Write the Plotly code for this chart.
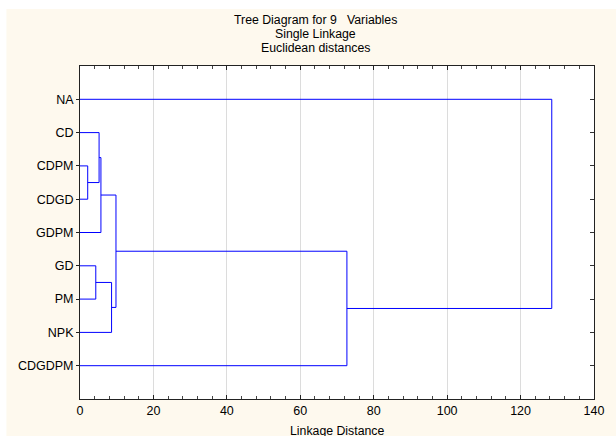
import plotly.graph_objects as go

# Leaves in display order (top to bottom)
labels = ["NA", "CD", "CDPM", "CDGD", "GDPM", "GD", "PM", "NPK", "CDGDPM"]
# Merges: (child_a, child_b) indices; leaves 0-8, new nodes numbered from 9
merge_a = [2, 5, 1, 11, 10, 12, 14, 0]
merge_b = [3, 6, 9, 4, 7, 13, 8, 15]
merge_height = [2.1, 4.3, 5.2, 5.7, 8.6, 9.8, 72.7, 128.5]

x_ticks = [0, 20, 40, 60, 80, 100, 120, 140]

# node positions (y = leaf position, x = linkage height)
node_y = {i: i + 1 for i in range(len(labels))}
node_x = {i: 0.0 for i in range(len(labels))}
xs, ys = [], []
for k, (a, b, h) in enumerate(zip(merge_a, merge_b, merge_height)):
    nid = len(labels) + k
    ya, yb = node_y[a], node_y[b]
    xs += [node_x[a], h, h, node_x[b], None]
    ys += [ya, ya, yb, yb, None]
    node_y[nid] = (ya + yb) / 2
    node_x[nid] = h

fig = go.Figure()
fig.add_trace(go.Scatter(x=xs, y=ys, mode="lines",
                         line=dict(color="#0000FF", width=1),
                         hoverinfo="skip", showlegend=False))
fig.add_trace(go.Scatter(x=[None], y=[None], yaxis="y2", mode="lines",
                         showlegend=False, hoverinfo="skip"))

font = dict(family="Liberation Sans, Arial, sans-serif", size=12.5, color="black")
tfont = dict(family="Liberation Sans, Arial, sans-serif", size=12.3, color="black")

fig.update_layout(
    width=616, height=436,
    margin=dict(l=80, r=12, t=66, b=37),
    paper_bgcolor="#FEF9EE",
    plot_bgcolor="white",
    font=font,
    xaxis=dict(range=[0, 140], tickvals=x_ticks, showgrid=True,
               gridcolor="#DCDCDC", gridwidth=1, zeroline=False,
               showline=True, linecolor="#222", linewidth=1, mirror="ticks",
               ticks="inside", ticklen=4, tickcolor="#222",
               minor=dict(dtick=4, tick0=0, ticks="inside", ticklen=3,
                          tickcolor="#444", showgrid=False),
               tickfont=font, fixedrange=True),
    yaxis=dict(range=[10, 0], tickvals=list(range(1, len(labels) + 1)),
               ticktext=labels, showgrid=False, zeroline=False,
               showline=True, linecolor="#222", linewidth=1, mirror=True,
               ticks="outside", ticklen=3, tickcolor="#222", tickfont=font),
    yaxis2=dict(range=[10, 0], overlaying="y", side="right",
                tickvals=list(range(1, len(labels) + 1)),
                showticklabels=False, showgrid=False, zeroline=False,
                showline=False, ticks="inside", ticklen=4, tickcolor="#333"),
    shapes=[
        dict(type="rect", xref="paper", yref="paper", layer="below",
             x0=-0.3, x1=1.2, y0=(399 - 9) / 333, y1=1.4,
             fillcolor="white", line=dict(width=0)),
        dict(type="rect", xref="paper", yref="paper", layer="below",
             x0=-0.3, x1=(5 - 80) / 524, y0=-0.3, y1=1.4,
             fillcolor="white", line=dict(width=0)),
    ],
)

title_lines = ["Tree Diagram for 9\u00a0\u00a0 Variables", "Single Linkage", "Euclidean distances"]
title_py = [20, 34, 48]
for t, py in zip(title_lines, title_py):
    fig.add_annotation(text=t, xref="paper", yref="paper",
                       x=(320 - 80) / 524, y=(399 - py) / 333,
                       xanchor="center", yanchor="middle", showarrow=False, font=tfont)

fig.add_annotation(text="Linkage Distance", xref="paper", yref="paper",
                   x=0.5, y=(399 - 431) / 333, xanchor="center", yanchor="middle",
                   showarrow=False, font=tfont)

fig.write_html("out.html")
